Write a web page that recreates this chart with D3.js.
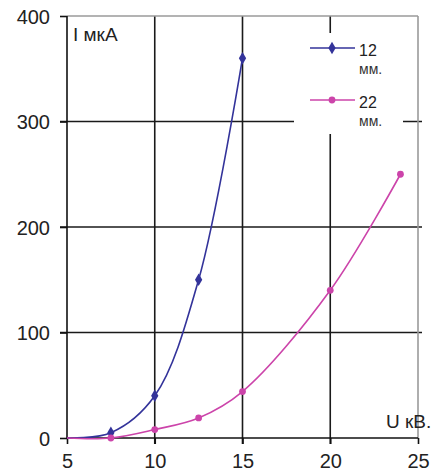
<!DOCTYPE html>
<html><head><meta charset="utf-8">
<script src="https://cdn.jsdelivr.net/npm/d3@7"></script>
<style>
html,body{margin:0;padding:0;background:#fff;}
svg{display:block;font-family:"Liberation Sans",Arial,sans-serif;}
</style></head>
<body><svg id="c" width="438" height="473"></svg>
<script>
const xTicks = [5, 10, 15, 20, 25];
const yTicks = [0, 100, 200, 300, 400];
const s12x = [5, 7.5, 10, 12.5, 15];
const s12y = [0, 5, 40, 150, 360];
const s22x = [5, 7.5, 10, 12.5, 15, 20, 24];
const s22y = [0, 0, 8, 19, 44, 140, 250];
const seriesNames = ["12", "22"];
const unitLabel = "мм.";
const yTitle = "I мкА";
const xTitle = "U кВ.";

const svg = d3.select("#c");
const x = d3.scaleLinear().domain([5, 25]).range([67, 418]);
const y = d3.scaleLinear().domain([0, 400]).range([438, 16]);

// gridlines
svg.append("g").selectAll("line").data(yTicks.filter(d => d > 0 && d < 400)).join("line")
  .attr("x1", x(5) - 7).attr("x2", x(25) + 4).attr("y1", d => y(d)).attr("y2", d => y(d))
  .attr("stroke", "#1a1a1a").attr("stroke-width", 1.6);
svg.append("g").selectAll("line").data(xTicks.filter(d => d > 5 && d < 25)).join("line")
  .attr("x1", d => x(d)).attr("x2", d => x(d)).attr("y1", y(400)).attr("y2", y(0) + 6)
  .attr("stroke", "#1a1a1a").attr("stroke-width", 1.6);

// top / right borders
svg.append("line").attr("x1", x(5)).attr("x2", x(25)).attr("y1", y(400)).attr("y2", y(400))
  .attr("stroke", "#9a9a9a").attr("stroke-width", 1.6);
svg.append("line").attr("x1", x(25)).attr("x2", x(25)).attr("y1", y(400)).attr("y2", y(0))
  .attr("stroke", "#9a9a9a").attr("stroke-width", 1.6);

// axes
const yAxis = d3.axisLeft(y).tickValues(yTicks).tickSize(7).tickPadding(10).tickFormat(d3.format("d"));
const xAxis = d3.axisBottom(x).tickValues(xTicks).tickSize(6).tickPadding(10).tickFormat(d3.format("d"));
const gy = svg.append("g").attr("transform", `translate(${x(5)},0)`).call(yAxis);
const gx = svg.append("g").attr("transform", `translate(0,${y(0)})`).call(xAxis);
[gy, gx].forEach(g => {
  g.select(".domain").attr("stroke", "#111").attr("stroke-width", 1.6);
  g.selectAll(".tick line").attr("stroke", "#111").attr("stroke-width", 1.6);
  g.selectAll("text").attr("fill", "#222").style("font-size", "20px")
    .style("font-family", "'Liberation Sans', Arial, sans-serif");
});
gy.selectAll("text").attr("dy", "0.36em");
gx.selectAll("text").attr("dy", "0.72em");
gy.select(".domain").attr("d", `M0,${y(400)}V${y(0)}`);
gx.select(".domain").attr("d", `M${x(5)},0H${x(25)}`);

// axis titles
svg.append("text").attr("x", 73).attr("y", 41).text(yTitle)
  .attr("fill", "#222").style("font-size", "19px");
svg.append("text").attr("x", 386).attr("y", 428).text(xTitle)
  .attr("fill", "#222").style("font-size", "19px");

// legend box
const lg = svg.append("g");
lg.append("rect").attr("x", 294).attr("y", 33).attr("width", 109).attr("height", 101).attr("fill", "#fff");

const line = d3.line().curve(d3.curveCatmullRom.alpha(0.5));
const colors = ["#33339a", "#cc44aa"];
const sets = [[s12x, s12y], [s22x, s22y]];

sets.forEach(([xs, ys], i) => {
  const pts = xs.map((v, k) => [x(v), y(ys[k])]);
  svg.append("path").attr("d", line(pts)).attr("fill", "none")
    .attr("stroke", colors[i]).attr("stroke-width", 1.6);
  svg.append("g").selectAll("path").data(pts.filter(p => p[0] > x(5) + 1)).join("path")
    .attr("transform", p => `translate(${p[0]},${p[1]})`)
    .attr("fill", colors[i])
    .attr("d", i === 0 ? d3.symbol().type(d3.symbolDiamond).size(46)() : d3.symbol().type(d3.symbolCircle).size(36)());
});

// legend entries
const legY = [48, 100];
seriesNames.forEach((name, i) => {
  lg.append("line").attr("x1", 310).attr("x2", 355).attr("y1", legY[i]).attr("y2", legY[i])
    .attr("stroke", colors[i]).attr("stroke-width", 1.6);
  lg.append("path").attr("transform", `translate(332,${legY[i]})`).attr("fill", colors[i])
    .attr("d", i === 0 ? d3.symbol().type(d3.symbolDiamond).size(46)() : d3.symbol().type(d3.symbolCircle).size(36)());
  lg.append("text").attr("x", 359).attr("y", legY[i] + 8).text(name)
    .attr("fill", "#222").style("font-size", "16px");
  lg.append("text").attr("x", 359).attr("y", legY[i] + 26).text(unitLabel)
    .attr("fill", "#333").style("font-size", "14px");
});
</script></body></html>
